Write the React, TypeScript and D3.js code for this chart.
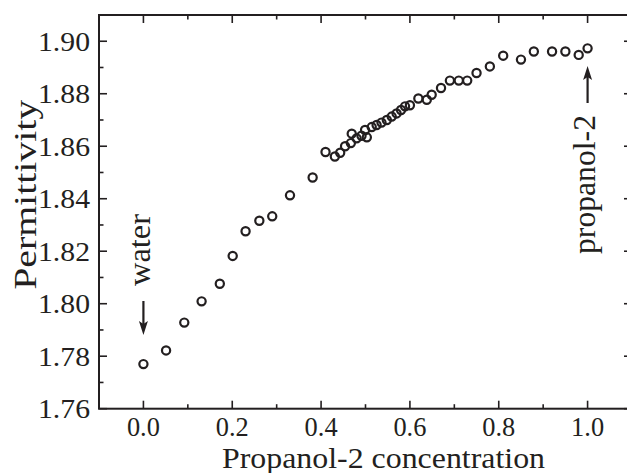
import React, { useRef, useEffect } from "react";
import * as d3 from "d3";

// propanol-2 mole fraction vs permittivity
const concentration = [
  0.0, 0.051, 0.092, 0.131, 0.172, 0.201, 0.23, 0.261, 0.29, 0.33, 0.381,
  0.41, 0.431, 0.443, 0.454, 0.467, 0.469, 0.48, 0.491, 0.499, 0.503, 0.514,
  0.525, 0.536, 0.548, 0.559, 0.57, 0.58, 0.589, 0.6, 0.619, 0.638, 0.649,
  0.67, 0.69, 0.71, 0.729, 0.75, 0.78, 0.81, 0.85, 0.879, 0.92, 0.95, 0.98,
  1.0,
];
const permittivity = [
  1.777, 1.7822, 1.7928, 1.8009, 1.8076, 1.8182, 1.8276, 1.8316, 1.8333,
  1.8413, 1.8481, 1.8578, 1.8561, 1.8575, 1.86, 1.8612, 1.8648, 1.863, 1.864,
  1.8662, 1.8634, 1.8673, 1.8681, 1.869, 1.87, 1.8713, 1.8725, 1.8738, 1.8752,
  1.8756, 1.8782, 1.8777, 1.8796, 1.8822, 1.885, 1.885, 1.885, 1.8879, 1.8904,
  1.8945, 1.893, 1.8961, 1.8961, 1.8961, 1.8948, 1.8973,
];
const xMajorTicks = [0.0, 0.2, 0.4, 0.6, 0.8, 1.0];
const xMinorTicks = [-0.1, 0.1, 0.3, 0.5, 0.7, 0.9, 1.1];
const yMajorTicks = [1.76, 1.78, 1.8, 1.82, 1.84, 1.86, 1.88, 1.9];
const yMinorTicks = [1.77, 1.79, 1.81, 1.83, 1.85, 1.87, 1.89, 1.91];

const width = 627;
const height = 473;
const ink = "#231f20";
const font = "'Liberation Serif', 'Times New Roman', serif";

const App = () => {
  const ref = useRef<SVGSVGElement>(null);

  useEffect(() => {
    const svg = d3.select(ref.current);
    svg.selectAll("*").remove();

    const x = d3.scaleLinear().domain([-0.1, 1.1]).range([99, 632]);
    const y = d3.scaleLinear().domain([1.76, 1.91]).range([408.7, 15]);
    const [x0, x1] = x.range();
    const [y0, y1] = y.range();

    const data = concentration.map((c, i) => ({ c, p: permittivity[i] }));

    // ticks, all pointing inward
    const tick = (vals, len, horiz) => {
      const g = svg.append("g").attr("stroke", ink).attr("stroke-width", 1.6);
      if (horiz) {
        g.append("g").selectAll("line").data(vals).join("line")
          .attr("x1", (d) => x(d)).attr("x2", (d) => x(d))
          .attr("y1", y0).attr("y2", y0 - len);
        g.append("g").selectAll("line").data(vals).join("line")
          .attr("x1", (d) => x(d)).attr("x2", (d) => x(d))
          .attr("y1", y1).attr("y2", y1 + len);
      } else {
        g.append("g").selectAll("line").data(vals).join("line")
          .attr("x1", x0).attr("x2", x0 + len)
          .attr("y1", (d) => y(d)).attr("y2", (d) => y(d));
        g.append("g").selectAll("line").data(vals).join("line")
          .attr("x1", x1).attr("x2", x1 - len)
          .attr("y1", (d) => y(d)).attr("y2", (d) => y(d));
      }
    };
    tick(xMajorTicks, 8, true);
    tick(xMinorTicks, 4.5, true);
    tick(yMajorTicks, 8, false);
    tick(yMinorTicks, 4.5, false);

    // frame
    svg.append("rect")
      .attr("x", x0).attr("y", y1)
      .attr("width", x1 - x0).attr("height", y0 - y1)
      .attr("fill", "none").attr("stroke", ink).attr("stroke-width", 2);

    // tick labels
    svg.append("g").selectAll("text").data(xMajorTicks).join("text")
      .attr("x", (d) => x(d)).attr("y", y0 + 27)
      .attr("text-anchor", "middle")
      .attr("font-family", font).attr("font-size", 27).attr("fill", ink)
      .attr("textLength", 33).attr("lengthAdjust", "spacingAndGlyphs")
      .text((d) => d.toFixed(1));
    svg.append("g").selectAll("text").data(yMajorTicks).join("text")
      .attr("x", x0 - 9).attr("y", (d) => y(d) + 9.5)
      .attr("text-anchor", "end")
      .attr("font-family", font).attr("font-size", 27).attr("fill", ink)
      .attr("textLength", 52).attr("lengthAdjust", "spacingAndGlyphs")
      .text((d) => d.toFixed(2));

    // axis titles
    svg.append("text")
      .attr("x", 383.5).attr("y", 468)
      .attr("text-anchor", "middle")
      .attr("font-family", font).attr("font-size", 29).attr("fill", ink)
      .attr("textLength", 323).attr("lengthAdjust", "spacingAndGlyphs")
      .text("Propanol-2 concentration");
    svg.append("text")
      .attr("transform", `translate(36,${(y0 + y1) / 2 - 17}) rotate(-90)`)
      .attr("text-anchor", "middle")
      .attr("font-family", font).attr("font-size", 31).attr("fill", ink)
      .attr("textLength", 190).attr("lengthAdjust", "spacingAndGlyphs")
      .text("Permittivity");

    // data points
    svg.append("g").selectAll("circle").data(data).join("circle")
      .attr("cx", (d) => x(d.c)).attr("cy", (d) => y(d.p))
      .attr("r", 4.1)
      .attr("fill", "none").attr("stroke", ink).attr("stroke-width", 2.2);

    // annotations: water (arrow down) and propanol-2 (arrow up)
    const arrow = (xv, from, to) => {
      const dir = Math.sign(to - from);
      const cx = x(xv);
      svg.append("line")
        .attr("x1", cx).attr("x2", cx)
        .attr("y1", from).attr("y2", to - dir * 10)
        .attr("stroke", ink).attr("stroke-width", 2.2);
      svg.append("path")
        .attr("d", `M${cx},${to} L${cx - 4.5},${to - dir * 14} L${cx},${to - dir * 11} L${cx + 4.5},${to - dir * 14} Z`)
        .attr("fill", ink);
    };
    arrow(0, 301, 335);
    arrow(1, 103, 66);

    svg.append("text")
      .attr("transform", `translate(${x(0) + 7},286) rotate(-90)`)
      .attr("font-family", font).attr("font-size", 31).attr("fill", ink)
      .attr("textLength", 72).attr("lengthAdjust", "spacingAndGlyphs")
      .text("water");
    svg.append("text")
      .attr("transform", `translate(${x(1) + 7},254) rotate(-90)`)
      .attr("font-family", font).attr("font-size", 31).attr("fill", ink)
      .attr("textLength", 139).attr("lengthAdjust", "spacingAndGlyphs")
      .text("propanol-2");
  }, []);

  return (
    <svg
      ref={ref}
      width={width}
      height={height}
      style={{ position: "absolute", left: 0, top: 0, background: "#fff" }}
    />
  );
};

export default App;
